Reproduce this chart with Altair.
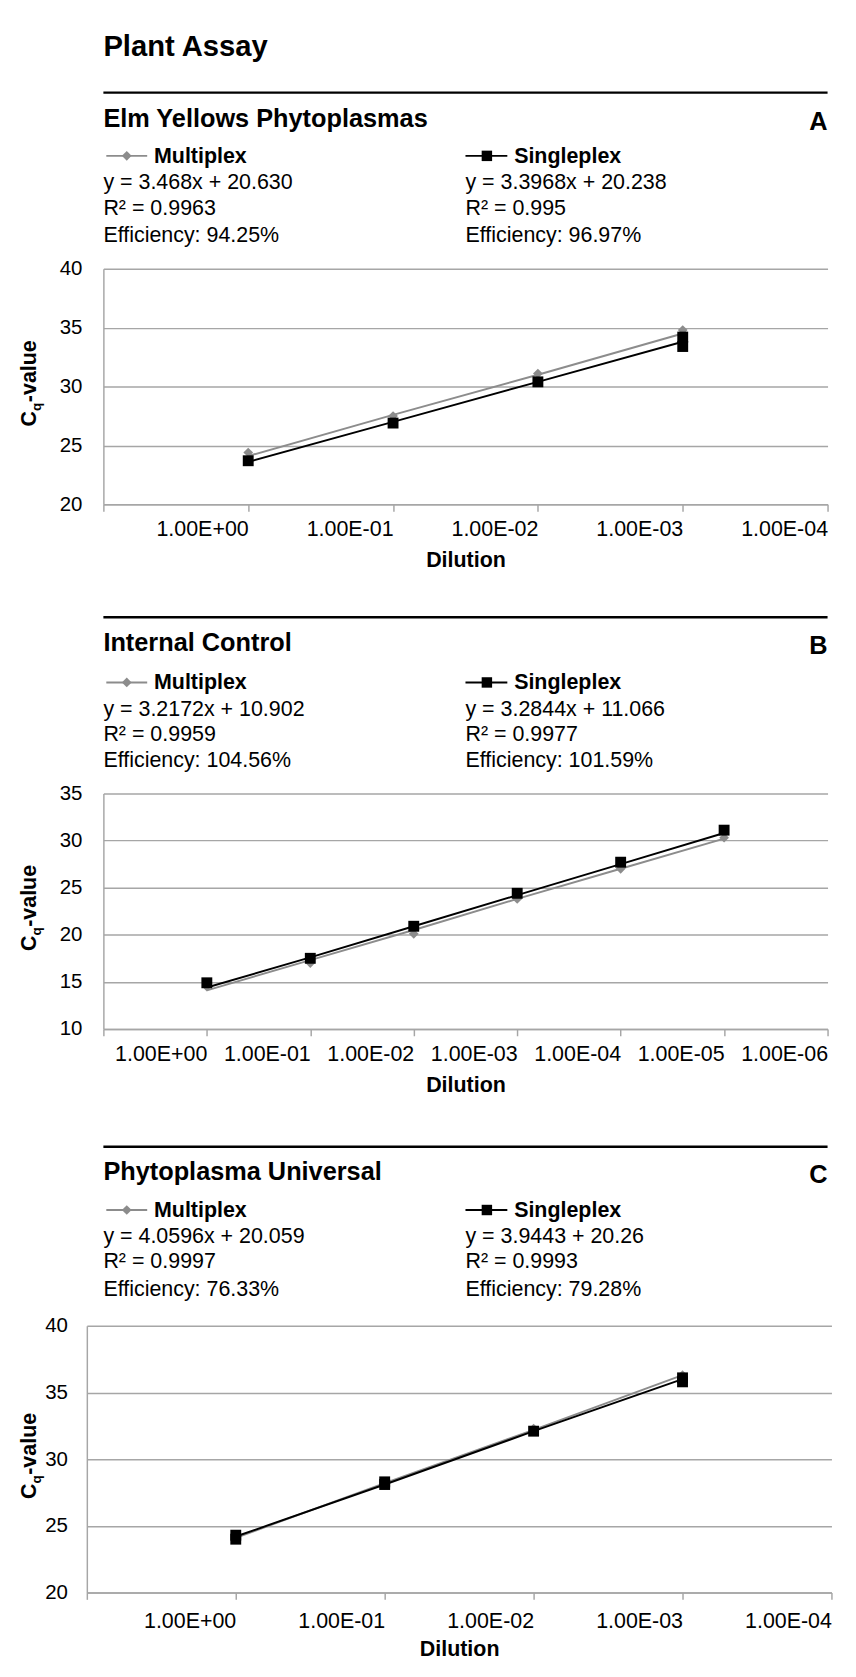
import altair as alt
import pandas as pd

FONT = "Liberation Sans"
GRID = "#a6a6a6"
GRAY = "#8c8c8c"
SERIES = ["Multiplex", "Singleplex"]

MAIN_TITLE = "Plant Assay"
TITLES = ["Elm Yellows Phytoplasmas", "Internal Control", "Phytoplasma Universal"]
LETTERS = ["A", "B", "C"]
EQ_MULTI = [
    ["y = 3.468x + 20.630", "R\u00b2 = 0.9963", "Efficiency: 94.25%"],
    ["y = 3.2172x + 10.902", "R\u00b2 = 0.9959", "Efficiency: 104.56%"],
    ["y = 4.0596x + 20.059", "R\u00b2 = 0.9997", "Efficiency: 76.33%"],
]
EQ_SINGLE = [
    ["y = 3.3968x + 20.238", "R\u00b2 = 0.995", "Efficiency: 96.97%"],
    ["y = 3.2844x + 11.066", "R\u00b2 = 0.9977", "Efficiency: 101.59%"],
    ["y = 3.9443 + 20.26", "R\u00b2 = 0.9993", "Efficiency: 79.28%"],
]

# ---- Panel A: Elm Yellows Phytoplasmas
A_TICKS = [10, 1, 0.1, 0.01, 0.001, 0.0001]
A_LABELS = ["1.00E+00", "1.00E-01", "1.00E-02", "1.00E-03", "1.00E-04"]
A_LINE_X = [1, 0.1, 0.01, 0.001]
A_MULTI_LINE = [24.1, 27.6, 31.0, 34.5]
A_SINGLE_LINE = [23.6, 27.0, 30.4, 33.8]
A_MULTI_PX = [1, 0.1, 0.01, 0.001]
A_MULTI_PTS = [24.4, 27.5, 31.1, 34.8]
A_SINGLE_PX = [1, 0.1, 0.01, 0.001, 0.001]
A_SINGLE_PTS = [23.7, 26.9, 30.4, 33.4, 34.2]
A_Y = [20, 25, 30, 35, 40]

# ---- Panel B: Internal Control
B_TICKS = [10, 1, 0.1, 0.01, 0.001, 0.0001, 0.00001, 0.000001]
B_LABELS = ["1.00E+00", "1.00E-01", "1.00E-02", "1.00E-03", "1.00E-04", "1.00E-05", "1.00E-06"]
B_LINE_X = [1, 0.1, 0.01, 0.001, 0.0001, 0.00001]
B_MULTI_LINE = [14.1, 17.3, 20.5, 23.8, 27.0, 30.2]
B_SINGLE_LINE = [14.4, 17.6, 20.9, 24.2, 27.5, 30.8]
B_MULTI_PX = [1, 0.1, 0.01, 0.001, 0.0001, 0.00001]
B_MULTI_PTS = [14.5, 17.0, 20.1, 23.8, 27.0, 30.3]
B_SINGLE_PX = [1, 0.1, 0.01, 0.001, 0.0001, 0.00001]
B_SINGLE_PTS = [14.9, 17.5, 20.9, 24.4, 27.7, 31.1]
B_Y = [10, 15, 20, 25, 30, 35]

# ---- Panel C: Phytoplasma Universal
C_TICKS = [10, 1, 0.1, 0.01, 0.001, 0.0001]
C_LABELS = ["1.00E+00", "1.00E-01", "1.00E-02", "1.00E-03", "1.00E-04"]
C_LINE_X = [1, 0.1, 0.01, 0.001]
C_MULTI_LINE = [24.1, 28.2, 32.2, 36.3]
C_SINGLE_LINE = [24.2, 28.1, 32.1, 36.0]
C_MULTI_PX = [1, 0.1, 0.01, 0.001]
C_MULTI_PTS = [24.0, 28.1, 32.3, 36.3]
C_SINGLE_PX = [1, 1, 0.1, 0.1, 0.01, 0.001, 0.001]
C_SINGLE_PTS = [24.0, 24.3, 28.1, 28.3, 32.1, 35.8, 36.1]
C_Y = [20, 25, 30, 35, 40]

ONE = pd.DataFrame({"k": [0]})
PX = 105  # left edge of the A/B plot areas (page pixels); all panel origins share it


def txt(s, x, y, size, bold=False, align="left", baseline="middle", angle=0):
    kw = dict(text=s, align=align, baseline=baseline, font=FONT, fontSize=size,
              fontWeight="bold" if bold else "normal", color="black")
    if angle:
        kw["angle"] = angle
    return alt.Chart(ONE).mark_text(**kw).encode(x=alt.value(x), y=alt.value(y))


def hrule(x1, x2, y, color, width):
    return alt.Chart(ONE).mark_rule(color=color, strokeWidth=width).encode(
        x=alt.value(x1), x2=alt.value(x2), y=alt.value(y))


def marker(x, y, shape, size, color):
    return alt.Chart(ONE).mark_point(shape=shape, filled=True, size=size, color=color,
                                     opacity=1).encode(x=alt.value(x), y=alt.value(y))


def panel(i, ticks, labels, line_x, m_line, s_line, m_px, m_pts, s_px, s_pts, yvals,
          py, W, H, head, ylabpad, lpad, tpad, bound_top, bound_bottom,
          x_left=None, x_right=None, main=False):
    rx = lambda a: a - PX
    ry = lambda a: a - py
    lines = pd.DataFrame({
        "dilution": list(line_x) + list(line_x),
        "cq": list(m_line) + list(s_line),
        "series": [SERIES[0]] * len(line_x) + [SERIES[1]] * len(line_x),
    })
    pts = pd.DataFrame({
        "dilution": list(m_px) + list(s_px),
        "cq": list(m_pts) + list(s_pts),
        "series": [SERIES[0]] * len(m_px) + [SERIES[1]] * len(s_px),
    })
    expr = "[" + ",".join("'%s'" % l for l in labels) + "][round(-log(datum.value)/LN10)] || ''"
    sc = dict(type="log", domain=[min(ticks), max(ticks)], reverse=True, nice=False)
    yoff = 0
    if x_left is not None:
        sc["range"] = [rx(x_left), rx(x_right)]
        yoff = PX - x_left
    X = alt.X("dilution:Q", scale=alt.Scale(**sc),
              axis=alt.Axis(values=ticks, labelExpr=expr, title="Dilution", grid=False,
                            domainColor=GRID, domainWidth=1.5, tickColor=GRID, tickWidth=1.5,
                            tickSize=7, labelFont=FONT, labelFontSize=22, labelColor="black",
                            labelAlign="right", labelPadding=lpad, labelOverlap=False,
                            labelFlush=False, titleFont=FONT, titleFontSize=22,
                            titleFontWeight="bold", titleColor="black", titlePadding=tpad))
    yax = dict(values=yvals, title=None, grid=True, gridColor=GRID, gridWidth=1.5,
               domainColor=GRID, domainWidth=1.5, ticks=False, tickSize=0,
               labelFont=FONT, labelFontSize=21, labelColor="black",
               labelPadding=ylabpad, labelFlush=False)
    if yoff:
        yax["offset"] = yoff
    Y = alt.Y("cq:Q", scale=alt.Scale(domain=[min(yvals), max(yvals)], nice=False, zero=False),
              axis=alt.Axis(**yax))
    color = alt.Color("series:N", scale=alt.Scale(domain=SERIES, range=[GRAY, "black"]), legend=None)
    line_layer = alt.Chart(lines).mark_line(strokeWidth=2).encode(x=X, y=Y, color=color)
    pt_layer = alt.Chart(pts).mark_point(filled=True, opacity=1).encode(
        x=X, y=Y, color=color,
        shape=alt.Shape("series:N", scale=alt.Scale(domain=SERIES, range=["diamond", "square"]), legend=None),
        size=alt.Size("series:N", scale=alt.Scale(domain=SERIES, range=[100, 125]), legend=None))

    layers = [line_layer, pt_layer]
    # invisible bounds marker (controls stacking of the panels)
    layers.append(alt.Chart(ONE).mark_rule(color="white", strokeWidth=1).encode(
        x=alt.value(rx(8)), y=alt.value(ry(bound_top)), y2=alt.value(ry(bound_bottom))))
    if main:
        layers.append(txt(MAIN_TITLE, rx(105), ry(head["main"]), 30, bold=True))
    layers.append(hrule(rx(105), rx(849), ry(head["rule"]), "black", 2.5))
    layers.append(txt(TITLES[i], rx(105), ry(head["title"]), 26, bold=True))
    layers.append(txt(LETTERS[i], rx(849), ry(head["title"]) + 3, 26, bold=True, align="right"))
    # legend entries
    ly = ry(head["legend"])
    layers.append(hrule(rx(108), rx(150), ly, GRAY, 2))
    layers.append(marker(rx(129), ly, "diamond", 100, GRAY))
    layers.append(txt(SERIES[0], rx(157), ly, 22, bold=True))
    layers.append(hrule(rx(477), rx(520), ly, "black", 2))
    layers.append(marker(rx(499), ly, "square", 115, "black"))
    layers.append(txt(SERIES[1], rx(527), ly, 22, bold=True))
    for k, key in enumerate(["eq", "r2", "eff"]):
        layers.append(txt(EQ_MULTI[i][k], rx(105), ry(head[key]), 22))
        layers.append(txt(EQ_SINGLE[i][k], rx(477), ry(head[key]), 22))
    # y-axis title  C_q-value (rotated, with subscript q)
    mid = H / 2
    bx = rx(36)
    layers.append(txt("C", bx, mid + 41, 22, bold=True, baseline="alphabetic", angle=270))
    layers.append(txt("q", bx + 5, mid + 41 - 16, 14, bold=True, baseline="alphabetic", angle=270))
    layers.append(txt("-value", bx, mid + 41 - 16 - 9, 22, bold=True, baseline="alphabetic", angle=270))
    return alt.layer(*layers).properties(width=W, height=H)


pA = panel(0, A_TICKS, A_LABELS, A_LINE_X, A_MULTI_LINE, A_SINGLE_LINE, A_MULTI_PX, A_MULTI_PTS,
           A_SINGLE_PX, A_SINGLE_PTS, A_Y, py=252, W=744, H=242,
           head=dict(main=24, rule=71, title=98, legend=136, eq=163, r2=190, eff=217),
           ylabpad=22, lpad=8, tpad=11, bound_top=8, bound_bottom=582, main=True)
pB = panel(1, B_TICKS, B_LABELS, B_LINE_X, B_MULTI_LINE, B_SINGLE_LINE, B_MULTI_PX, B_MULTI_PTS,
           B_SINGLE_PX, B_SINGLE_PTS, B_Y, py=789, W=744, H=242,
           head=dict(rule=608, title=635, legend=675, eq=702, r2=728, eff=755),
           ylabpad=22, lpad=8, tpad=11, bound_top=582, bound_bottom=1127)
pC = panel(2, C_TICKS, C_LABELS, C_LINE_X, C_MULTI_LINE, C_SINGLE_LINE, C_MULTI_PX, C_MULTI_PTS,
           C_SINGLE_PX, C_SINGLE_PTS, C_Y, py=1334, W=744, H=274,
           head=dict(rule=1150, title=1176, legend=1215, eq=1242, r2=1268, eff=1296),
           ylabpad=20, lpad=12, tpad=8, bound_top=1127, bound_bottom=1600,
           x_left=88, x_right=853)

chart = alt.vconcat(pA, pB, pC, spacing=0).properties(padding=0).configure_view(stroke=None)

chart.save("out.html", embed_options={"renderer": "svg", "actions": False})
